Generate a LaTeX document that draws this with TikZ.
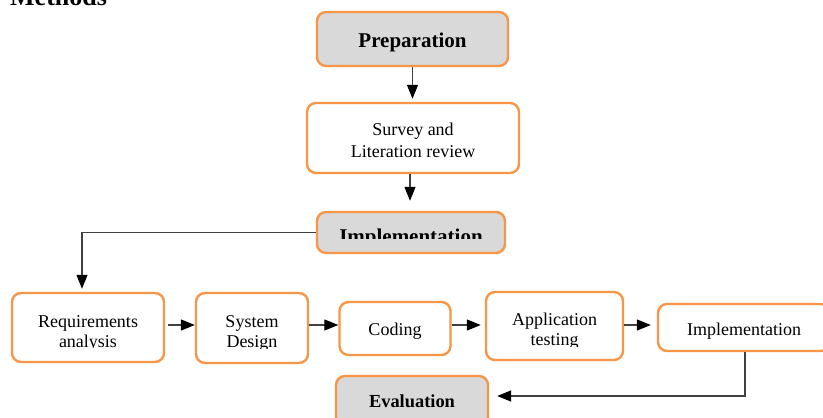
\documentclass[tikz,border=0pt]{standalone}
\usepackage{fontspec}
\setmainfont{Liberation Serif}
\usetikzlibrary{arrows.meta}
\definecolor{boxorange}{HTML}{F79646}
\definecolor{boxgray}{HTML}{D9D9D9}
\definecolor{linegray}{HTML}{404040}
\tikzset{
  stepbox/.style={draw=boxorange, line width=2.4pt, rounded corners=9pt, fill=white, inner sep=0pt},
  phasebox/.style={stepbox, fill=boxgray},
  boxsize/.style 2 args={minimum width=#1pt, minimum height=#2pt},
  txt/.style={anchor=base, font=\fontsize{18}{20}\selectfont, inner sep=0pt},
  btxt/.style={anchor=base, font=\fontsize{21}{24}\selectfont\bfseries, inner sep=0pt},
  conn/.style={draw=linegray, line width=1.3pt, -{Triangle[length=14pt,width=11pt,color=black,fill=black]}},
}
\begin{document}
\begin{tikzpicture}[x=1pt,y=-1pt]
\useasboundingbox (0,0) rectangle (823,418);
\clip (0,0) rectangle (823,418);

\node[anchor=base west, inner sep=0pt, font=\fontsize{26}{28}\selectfont\bfseries] (methods) at (10,5) {Methods};

% boxes
\node[phasebox, boxsize={191}{54}] (prep) at (412.5,39) {};
\node[stepbox, boxsize={212}{70}] (survey) at (413,138) {};
\node[phasebox, boxsize={188}{41}] (impl) at (411,232.5) {};
\node[stepbox, boxsize={152}{69}] (req) at (88,327.5) {};
\node[stepbox, boxsize={112}{70}] (sys) at (252,328) {};
\node[stepbox, boxsize={111}{53}] (code) at (395,328.5) {};
\node[stepbox, boxsize={137}{68}] (app) at (554.5,326) {};
\node[stepbox, boxsize={172}{47}] (impl2) at (744,327.5) {};
\node[phasebox, boxsize={152}{50}] (eval) at (412,401) {};

% texts
\node[btxt] (tprep) at (412.5,47) {Preparation};
\node[txt] (tsurveya) at (413,135) {Survey and};
\node[txt] (tsurveyb) at (413,157) {Literation review};
\begin{scope}
  \clip (0,0) rectangle (823,238.5);
  \node[btxt] (timpl) at (411,243) {Implementation};
\end{scope}
\begin{scope}
  \clip (0,0) rectangle (823,347.5);
  \node[txt] (treqa) at (88,327) {Requirements};
  \node[txt] (treqb) at (88,347) {analysis};
\end{scope}
\begin{scope}
  \clip (0,0) rectangle (823,348);
  \node[txt] (tsysa) at (252,327) {System};
  \node[txt] (tsysb) at (252,347) {Design};
\end{scope}
\begin{scope}
  \clip (0,0) rectangle (823,346);
  \node[txt] (tappa) at (554.5,325) {Application};
  \node[txt] (tappb) at (554.5,345) {testing};
\end{scope}
\node[txt] (tcode) at (395,335) {Coding};
\node[txt] (timplb) at (744,335) {Implementation};
\node[anchor=base, inner sep=0pt, font=\fontsize{18.4}{20}\selectfont\bfseries] (teval) at (412,407) {Evaluation};

% connectors
\coordinate (ay) at (0,325);
\draw[conn, shorten >=3pt] (prep.south) -- (prep.south |- survey.north);
\draw[conn, shorten >=10pt] ([xshift=-3pt]survey.south) -- ([xshift=-3pt]survey.south |- impl.north);
\draw[conn, shorten >=3pt] (impl.west) -| ([xshift=-6pt]req.north);
\draw[conn, shorten <=3pt] (req.east |- ay) -- (sys.west |- ay);
\draw[conn] (sys.east |- ay) -- (code.west |- ay);
\draw[conn, shorten >=4pt] (code.east |- ay) -- (app.west |- ay);
\draw[conn, shorten >=6pt] (app.east |- ay) -- (impl2.west |- ay);
\draw[conn, shorten >=8pt] ([xshift=1pt]impl2.south) |- ([yshift=5pt]eval.east);
\end{tikzpicture}
\end{document}
